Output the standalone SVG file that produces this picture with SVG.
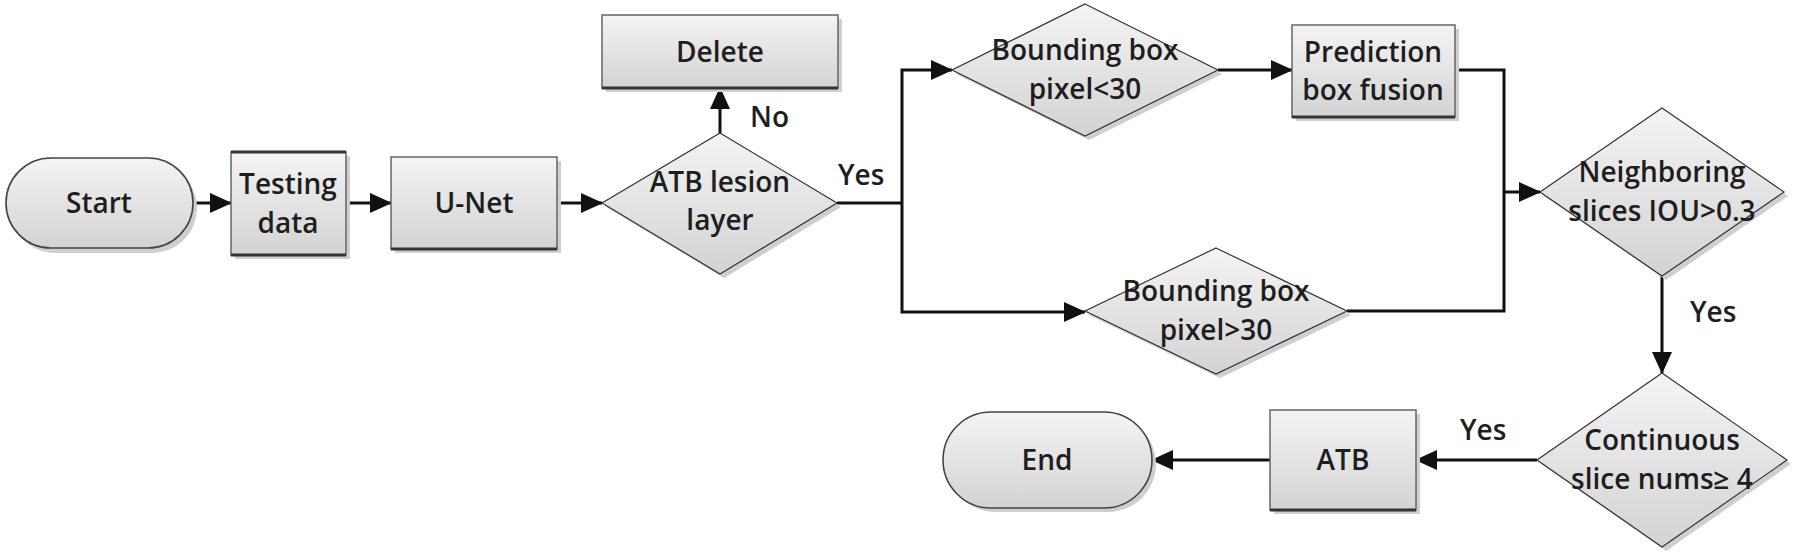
<svg xmlns="http://www.w3.org/2000/svg" width="1800" height="557" viewBox="0 0 1800 557">
<style>
.t{font-family:"Open Sans","Liberation Sans",Arial,sans-serif;font-size:28px;font-weight:600;fill:#1e1e1e;text-anchor:middle}
.lbl{font-family:"Open Sans","Liberation Sans",Arial,sans-serif;font-size:28px;font-weight:600;fill:#1e1e1e}
.box{fill:url(#g);stroke:#666;stroke-width:1.5}
.dia{fill:url(#g);stroke:#333;stroke-width:1.2}
.term{fill:url(#g);stroke:#444;stroke-width:1.6}
.sh{fill:#cfcfcf}
.bot{stroke:#333;stroke-width:3}
.c{fill:none;stroke:#111;stroke-width:3}
.ca{fill:none;stroke:#111;stroke-width:3;marker-end:url(#ah)}
</style>
<defs>
<linearGradient id="g" x1="0" y1="0" x2="0" y2="1">
<stop offset="0" stop-color="#f4f4f4"/>
<stop offset="1" stop-color="#d3d3d3"/>
</linearGradient>
<marker id="ah" viewBox="0 0 22 20" refX="21" refY="10" markerWidth="22" markerHeight="20" markerUnits="userSpaceOnUse" orient="auto">
<path d="M0,0 L22,10 L0,20 z" fill="#111"/>
</marker>
</defs>
<rect width="1800" height="557" fill="#fff"/>

<g id="connectors">
<line class="ca" x1="193" y1="203" x2="231" y2="203"/>
<line class="ca" x1="346" y1="203" x2="391" y2="203"/>
<line class="ca" x1="557" y1="203" x2="602" y2="203"/>
<line class="ca" x1="720" y1="133" x2="720" y2="88"/>
<polyline class="c" points="837,203 902,203"/>
<polyline class="ca" points="902,203 902,70 952,70"/>
<polyline class="ca" points="902,203 902,312 1085,312"/>
<line class="ca" x1="1218" y1="70" x2="1292" y2="70"/>
<polyline class="c" points="1455,70 1504,70 1504,192"/>
<polyline class="c" points="1347,311 1504,311 1504,192"/>
<line class="ca" x1="1504" y1="192" x2="1540" y2="192"/>
<line class="ca" x1="1662" y1="276" x2="1662" y2="373"/>
<line class="ca" x1="1537" y1="460" x2="1416" y2="460"/>
<line class="ca" x1="1270" y1="460" x2="1152" y2="460"/>
<text class="lbl" x="750" y="127">No</text>
<text class="lbl" x="838" y="185">Yes</text>
<text class="lbl" x="1690" y="322">Yes</text>
<text class="lbl" x="1460" y="440">Yes</text>
</g>

<g id="start">
<rect class="sh" x="10" y="163" width="187" height="90" rx="45"/>
<rect class="term" x="6" y="158" width="187" height="90" rx="45"/>
<text class="t" x="99" y="213">Start</text>
</g>

<g id="testing">
<rect class="sh" x="235" y="156" width="115" height="103"/>
<rect class="box" x="231" y="152" width="115" height="103"/>
<line class="bot" x1="231" y1="255" x2="346" y2="255"/>
<line class="bot" x1="231" y1="152" x2="346" y2="152"/>
<text class="t" x="288" y="194">Testing</text>
<text class="t" x="288" y="233">data</text>
</g>

<g id="unet">
<rect class="sh" x="395" y="161" width="166" height="92"/>
<rect class="box" x="391" y="157" width="166" height="92"/>
<line class="bot" x1="391" y1="249" x2="557" y2="249"/>
<text class="t" x="474" y="213">U-Net</text>
</g>

<g id="delete">
<rect class="sh" x="606" y="19" width="236" height="73"/>
<rect class="box" x="602" y="15" width="236" height="73"/>
<line class="bot" x1="602" y1="88" x2="838" y2="88"/>
<text class="t" x="720" y="62">Delete</text>
</g>

<g id="atb-lesion">
<polygon class="sh" points="724,136 841,207 724,278 606,207"/>
<polygon class="dia" points="720,133 837,203 720,274 602,203"/>
<text class="t" x="720" y="192">ATB lesion</text>
<text class="t" x="720" y="230">layer</text>
</g>

<g id="bb-small">
<polygon class="sh" points="1089,8 1222,74 1089,140 956,74"/>
<polygon class="dia" points="1085,4 1218,70 1085,136 952,70"/>
<text class="t" x="1085" y="60">Bounding box</text>
<text class="t" x="1085" y="99">pixel&lt;30</text>
</g>

<g id="prediction">
<rect class="sh" x="1296" y="29" width="163" height="92"/>
<rect class="box" x="1292" y="25" width="163" height="92"/>
<line class="bot" x1="1292" y1="117" x2="1455" y2="117"/>
<text class="t" x="1373" y="62">Prediction</text>
<text class="t" x="1373" y="100">box fusion</text>
</g>

<g id="bb-large">
<polygon class="sh" points="1220,252 1351,315 1220,378 1089,315"/>
<polygon class="dia" points="1216,248 1347,311 1216,374 1085,311"/>
<text class="t" x="1216" y="301">Bounding box</text>
<text class="t" x="1216" y="340">pixel&gt;30</text>
</g>

<g id="neighboring">
<polygon class="sh" points="1666,112 1788,196 1666,280 1544,196"/>
<polygon class="dia" points="1662,108 1784,192 1662,276 1540,192"/>
<text class="t" x="1662" y="182">Neighboring</text>
<text class="t" x="1662" y="221">slices IOU&gt;0.3</text>
</g>

<g id="continuous">
<polygon class="sh" points="1666,377 1791,464 1666,551 1541,464"/>
<polygon class="dia" points="1662,373 1787,460 1662,547 1537,460"/>
<text class="t" x="1662" y="450">Continuous</text>
<text class="t" x="1662" y="489">slice nums≥ 4</text>
</g>

<g id="atb">
<rect class="sh" x="1274" y="414" width="146" height="100"/>
<rect class="box" x="1270" y="410" width="146" height="100"/>
<line class="bot" x1="1270" y1="510" x2="1416" y2="510"/>
<text class="t" x="1343" y="470">ATB</text>
</g>

<g id="end">
<rect class="sh" x="947" y="416" width="209" height="96" rx="48"/>
<rect class="term" x="943" y="412" width="209" height="96" rx="48"/>
<text class="t" x="1047" y="470">End</text>
</g>
</svg>
